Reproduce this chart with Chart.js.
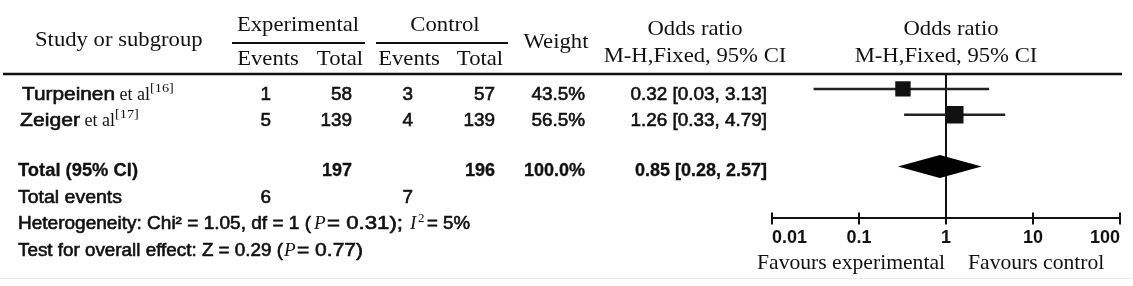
<!DOCTYPE html>
<html>
<head>
<meta charset="utf-8">
<script src="https://cdn.jsdelivr.net/npm/chart.js@4"></script>
<style>
    html, body { margin: 0; padding: 0; background: #fff; }
    #wrap { width: 1133px; height: 286px; }
</style>
</head>
<body>
<div id="wrap"><canvas id="forest" width="1133" height="286"></canvas></div>
<script>
const studies = ['Turpeinen', 'Zeiger'];
const studyRefs = ['[16]', '[17]'];
const expEvents = [1, 5];
const expTotals = [58, 139];
const ctrlEvents = [3, 4];
const ctrlTotals = [57, 139];
const weights = [43.5, 56.5];
const oddsRatios = [0.32, 1.26];
const ciLower = [0.03, 0.33];
const ciUpper = [3.13, 4.79];
const pooled = [0.85, 0.28, 2.57];      // estimate, lower, upper
const heterogeneity = [1.05, 1, 0.31, 5]; // chi2, df, P, I2
const overallEffect = [0.29, 0.77];     // Z, P
const tickValues = [0.01, 0.1, 1, 10, 100];
const studyRows = [1, 2];
const totalRow = 4;

const SANS = '"Liberation Sans", Arial, sans-serif';
const SERIF = '"Liberation Serif", "Times New Roman", serif';
const INK = '#111';

const sum = arr => arr.reduce((a, b) => a + b, 0);
const fmtCI = (v, lo, hi) => `${v.toFixed(2)} [${lo.toFixed(2)}, ${hi.toFixed(2)}]`;

// draws a string; o.w squeezes/stretches it to that width, o.stroke fakes a heavier weight
function txt(ctx, s, x, y, o) {
    ctx.save();
    ctx.font = o.font;
    ctx.fillStyle = INK;
    ctx.strokeStyle = INK;
    ctx.textBaseline = 'middle';
    ctx.textAlign = o.align || 'left';
    const raw = ctx.measureText(s).width;
    const sx = o.w ? o.w / raw : (o.sx || 1);
    ctx.translate(x, y);
    ctx.scale(sx, 1);
    ctx.fillText(s, 0, 0);
    if (o.stroke) {
        ctx.lineWidth = o.stroke;
        ctx.strokeText(s, 0, 0);
    }
    ctx.restore();
    return raw * sx;
}

function hline(ctx, x1, x2, y, w) {
    ctx.save();
    ctx.strokeStyle = INK;
    ctx.lineWidth = w;
    ctx.beginPath();
    ctx.moveTo(x1, y);
    ctx.lineTo(x2, y);
    ctx.stroke();
    ctx.restore();
}

const HEADER_Y = 74;

const forestPlugin = {
    id: 'forest',
    beforeDatasetsDraw(chart) {
        const { ctx, scales: { x }, chartArea } = chart;
        const px = x.getPixelForValue(1);
        ctx.save();
        ctx.strokeStyle = INK;
        ctx.lineWidth = 2;
        ctx.beginPath();
        ctx.moveTo(px, HEADER_Y);
        ctx.lineTo(px, chartArea.bottom);
        ctx.stroke();
        ctx.restore();
    },
    afterDatasetsDraw(chart) {
        const { ctx, scales: { x, y } } = chart;
        const cy = y.getPixelForValue(totalRow);
        const half = 11.5;
        ctx.save();
        ctx.fillStyle = '#000';
        ctx.beginPath();
        ctx.moveTo(x.getPixelForValue(pooled[1]), cy);
        ctx.lineTo(x.getPixelForValue(pooled[0]), cy - half);
        ctx.lineTo(x.getPixelForValue(pooled[2]), cy);
        ctx.lineTo(x.getPixelForValue(pooled[0]), cy + half);
        ctx.closePath();
        ctx.fill();
        ctx.restore();
    },
    afterDraw(chart) {
        const { ctx, scales: { x, y }, chartArea } = chart;
        const med = { font: `18px ${SANS}`, stroke: 0.6 };
        const medR = { ...med, align: 'right', sx: 1.05 };
        const bold = { font: `bold 18px ${SANS}`, stroke: 0.3 };
        const boldR = { ...bold, align: 'right' };
        const head = { font: `21px ${SERIF}`, align: 'center', sx: 1.08 };
        const ital = { font: `italic 19px ${SERIF}` };
        const sup = { font: `13px ${SERIF}` };

        // upper half of the axis ticks
        ctx.save();
        ctx.strokeStyle = INK;
        ctx.lineWidth = 2;
        tickValues.forEach(v => {
            const px = x.getPixelForValue(v);
            ctx.beginPath();
            ctx.moveTo(px, chartArea.bottom - 6);
            ctx.lineTo(px, chartArea.bottom);
            ctx.stroke();
        });
        ctx.restore();

        // header
        txt(ctx, 'Experimental', 298, 25, head);
        txt(ctx, 'Control', 445, 25, head);
        hline(ctx, 232, 365, 43, 2);
        hline(ctx, 376, 508, 43, 2);
        txt(ctx, 'Study or subgroup', 35, 40, { ...head, align: 'left' });
        txt(ctx, 'Events', 268, 59, head);
        txt(ctx, 'Total', 340, 59, head);
        txt(ctx, 'Events', 409, 59, head);
        txt(ctx, 'Total', 480, 59, head);
        txt(ctx, 'Weight', 556, 42, head);
        txt(ctx, 'Odds ratio', 695, 29, head);
        txt(ctx, 'M-H,Fixed, 95% CI', 695, 56, head);
        txt(ctx, 'Odds ratio', 951, 29, head);
        txt(ctx, 'M-H,Fixed, 95% CI', 946, 56, head);
        hline(ctx, 3, 1122, HEADER_Y, 2.5);

        // study rows
        const nameBox = [[22, 93], [20, 60]];
        studies.forEach((name, i) => {
            const ry = y.getPixelForValue(studyRows[i]) + 6;
            let cx = nameBox[i][0];
            cx += txt(ctx, name, cx, ry, { ...med, w: nameBox[i][1] });
            cx += txt(ctx, ' et al', cx, ry, { font: `18px ${SERIF}` });
            txt(ctx, studyRefs[i], cx, ry - 6, { ...sup, sx: 1.1 });
            txt(ctx, String(expEvents[i]), 271, ry, medR);
            txt(ctx, String(expTotals[i]), 352, ry, medR);
            txt(ctx, String(ctrlEvents[i]), 413, ry, medR);
            txt(ctx, String(ctrlTotals[i]), 495, ry, medR);
            txt(ctx, `${weights[i].toFixed(1)}%`, 585, ry, medR);
            txt(ctx, fmtCI(oddsRatios[i], ciLower[i], ciUpper[i]), 767, ry, medR);
        });

        // total row
        const ty = y.getPixelForValue(totalRow) + 4;
        txt(ctx, 'Total (95% CI)', 18, ty, { ...bold, w: 120 });
        txt(ctx, String(sum(expTotals)), 352, ty, boldR);
        txt(ctx, String(sum(ctrlTotals)), 495, ty, boldR);
        txt(ctx, `${sum(weights).toFixed(1)}%`, 585, ty, boldR);
        txt(ctx, fmtCI(pooled[0], pooled[1], pooled[2]), 767, ty, boldR);

        // summary lines
        const ey = y.getPixelForValue(totalRow + 1) + 6;
        txt(ctx, 'Total events', 18, ey, { ...med, w: 104 });
        txt(ctx, String(sum(expEvents)), 271, ey, medR);
        txt(ctx, String(sum(ctrlEvents)), 413, ey, medR);

        const hy = y.getPixelForValue(totalRow + 2) + 6;
        txt(ctx, `Heterogeneity: Chi² = ${heterogeneity[0].toFixed(2)}, df = ${heterogeneity[1]} (`, 18, hy, { ...med, w: 293 });
        txt(ctx, 'P', 314, hy, ital);
        txt(ctx, `= ${heterogeneity[2].toFixed(2)});`, 327, hy, { ...med, w: 76 });
        txt(ctx, 'I', 410, hy, ital);
        txt(ctx, '2', 418, hy - 6, sup);
        txt(ctx, `= ${heterogeneity[3]}%`, 427, hy, { ...med, w: 43 });

        const oy = y.getPixelForValue(totalRow + 3) + 7;
        txt(ctx, `Test for overall effect: Z = ${overallEffect[0].toFixed(2)} (`, 18, oy, { ...med, w: 265 });
        txt(ctx, 'P', 284, oy, ital);
        txt(ctx, `= ${overallEffect[1].toFixed(2)})`, 297, oy, { ...med, w: 66 });

        // favours labels
        txt(ctx, 'Favours experimental', 757, 263, { font: `21px ${SERIF}`, sx: 1.03 });
        txt(ctx, 'Favours control', 968, 263, { font: `21px ${SERIF}`, sx: 1.03 });

        // faint bottom rule
        ctx.save();
        ctx.strokeStyle = '#e8e8e8';
        ctx.lineWidth = 1;
        ctx.beginPath();
        ctx.moveTo(0, 278.5);
        ctx.lineTo(1133, 278.5);
        ctx.stroke();
        ctx.restore();
    }
};

const squares = {
    data: studyRows.map((r, i) => ({ x: oddsRatios[i], y: r })),
    pointStyle: 'rect',
    pointRadius: weights.map(w => 16.5 * Math.sqrt(w / 100)),
    pointHoverRadius: weights.map(w => 16.5 * Math.sqrt(w / 100)),
    backgroundColor: '#111',
    borderColor: '#111',
    borderWidth: 0,
    showLine: false,
    order: 0
};

const ciLines = studyRows.map((r, i) => ({
    data: [{ x: ciLower[i], y: r }, { x: ciUpper[i], y: r }],
    showLine: true,
    borderColor: '#222',
    borderWidth: 2.5,
    pointRadius: 0,
    order: 1
}));

new Chart(document.getElementById('forest'), {
    type: 'scatter',
    data: { datasets: [squares, ...ciLines] },
    options: {
        responsive: false,
        animation: false,
        layout: { padding: { left: 772, right: 13, top: 63, bottom: 34 } },
        plugins: { legend: { display: false }, tooltip: { enabled: false } },
        scales: {
            x: {
                type: 'logarithmic',
                min: 0.01,
                max: 100,
                position: 'bottom',
                afterBuildTicks: scale => {
                    scale.ticks = tickValues.map(v => ({ value: v }));
                },
                ticks: {
                    align: 'inner',
                    padding: 3,
                    autoSkip: false,
                    maxRotation: 0,
                    color: INK,
                    font: { family: SANS, size: 18, weight: 'bold' },
                    callback: v => String(v)
                },
                grid: { drawOnChartArea: false, drawTicks: true, tickLength: 6, color: INK, lineWidth: 2 },
                border: { display: true, color: INK, width: 2 }
            },
            y: {
                type: 'linear',
                min: 0,
                max: 6,
                reverse: true,
                display: false
            }
        }
    },
    plugins: [forestPlugin]
});
</script>
</body>
</html>
